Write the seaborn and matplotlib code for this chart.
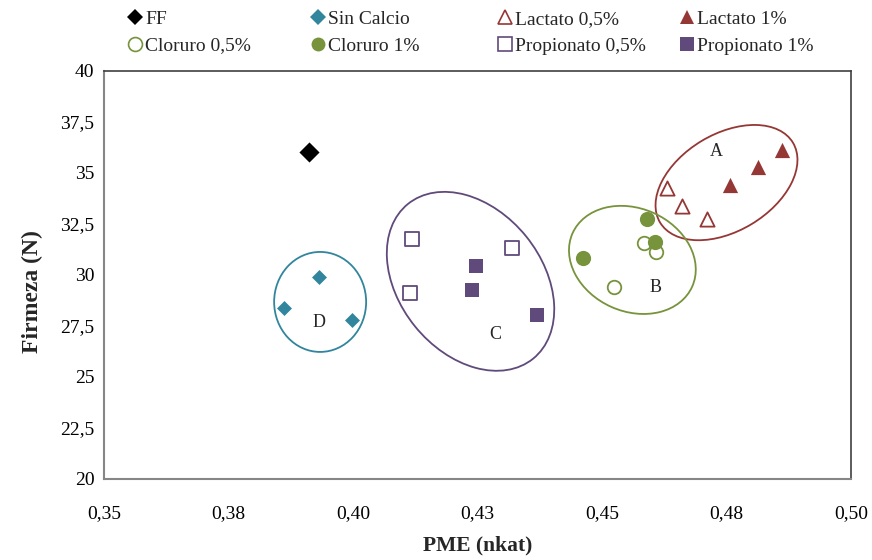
import matplotlib
matplotlib.use("Agg")
import matplotlib.pyplot as plt
import matplotlib.transforms as mtransforms
from matplotlib.patches import Ellipse
from matplotlib.lines import Line2D
import seaborn as sns

# ---- data: PME activity (nkat) vs. firmness (N) per treatment ----
ff_pme = [0.3912]
ff_firmeza = [36.05]

sin_calcio_pme = [0.3861, 0.3931, 0.3997]
sin_calcio_firmeza = [28.38, 29.92, 27.79]

lactato05_pme = [0.4630, 0.4660, 0.4710]
lactato05_firmeza = [34.25, 33.38, 32.75]

lactato1_pme = [0.4757, 0.4814, 0.4862]
lactato1_firmeza = [34.41, 35.31, 36.13]

cloruro05_pme = [0.4585, 0.4608, 0.4525]
cloruro05_firmeza = [31.55, 31.14, 29.40]

cloruro1_pme = [0.4591, 0.4607, 0.4461]
cloruro1_firmeza = [32.73, 31.60, 30.85]

propionato05_pme = [0.4118, 0.4319, 0.4114]
propionato05_firmeza = [31.76, 31.31, 29.13]

propionato1_pme = [0.4246, 0.4238, 0.4370]
propionato1_firmeza = [30.44, 29.26, 28.04]

x_ticks = [0.35, 0.375, 0.40, 0.425, 0.45, 0.475, 0.50]
x_tick_labels = ["0,35", "0,38", "0,40", "0,43", "0,45", "0,48", "0,50"]
y_ticks = [20, 22.5, 25, 27.5, 30, 32.5, 35, 37.5, 40]
y_tick_labels = ["20", "22,5", "25", "27,5", "30", "32,5", "35", "37,5", "40"]

# ---- styling ----
sns.set_style("white")
plt.rcParams["font.family"] = ["Liberation Serif", "DejaVu Serif"]

TEAL = "#31859C"
RED = "#953735"
GREEN = "#77933C"
PURPLE = "#604A7B"

series = [
    ("FF", ff_pme, ff_firmeza, "D", "black", True, 105),
    ("Sin Calcio", sin_calcio_pme, sin_calcio_firmeza, "D", TEAL, True, 58),
    ("Lactato 0,5%", lactato05_pme, lactato05_firmeza, "^", RED, False, 105),
    ("Lactato 1%", lactato1_pme, lactato1_firmeza, "^", RED, True, 120),
    ("Cloruro 0,5%", cloruro05_pme, cloruro05_firmeza, "o", GREEN, False, 95),
    ("Cloruro 1%", cloruro1_pme, cloruro1_firmeza, "o", GREEN, True, 120),
    ("Propionato 0,5%", propionato05_pme, propionato05_firmeza, "s", PURPLE, False, 100),
    ("Propionato 1%", propionato1_pme, propionato1_firmeza, "s", PURPLE, True, 105),
]

fig = plt.figure(figsize=(8.72, 5.60), dpi=100)
ax = fig.add_axes([104 / 872, 1 - 479 / 560, (851 - 104) / 872, (479 - 71) / 560])

for label, xs, ys, marker, color, filled, size in series:
    sns.scatterplot(
        x=xs, y=ys, ax=ax, marker=marker, s=size,
        color=color if filled else "white",
        edgecolor=color, linewidth=0 if filled else 1.3,
        legend=False, zorder=3,
    )

# ---- grouping ellipses (centre in data units, size in pixels) ----
groups = [
    ("A", (0.4750, 34.53), 155, 97, 31, RED, (0.4730, 36.04)),
    ("B", (0.4561, 30.74), 131, 103, -24, GREEN, (0.4608, 29.41)),
    ("C", (0.4236, 29.69), 199, 143, -51, PURPLE, (0.4285, 27.06)),
    ("D", (0.3934, 28.68), 92, 100, 0, TEAL, (0.3932, 27.65)),
]
for name, (cx, cy), w, h, ang, col, (tx, ty) in groups:
    tr = fig.dpi_scale_trans + mtransforms.ScaledTranslation(cx, cy, ax.transData)
    ax.add_patch(Ellipse((0, 0), w / 100, h / 100, angle=ang, transform=tr,
                         fill=False, edgecolor=col, linewidth=1.3, zorder=2))
    ax.text(tx, ty, name, ha="center", va="center", fontsize=13, zorder=4)

# ---- axes ----
ax.set_xlim(0.35, 0.50)
ax.set_ylim(20, 40)
ax.set_xticks(x_ticks)
ax.set_xticklabels(x_tick_labels)
ax.set_yticks(y_ticks)
ax.set_yticklabels(y_tick_labels)
ax.tick_params(axis="both", direction="out", length=5, width=1.2, color="#868686",
               labelsize=14, labelcolor="black")
ax.tick_params(axis="x", pad=14)
ax.tick_params(axis="y", pad=2)
for side in ("left", "bottom"):
    ax.spines[side].set_color("#868686")
    ax.spines[side].set_linewidth(1.5)
for side in ("top", "right"):
    ax.spines[side].set_color("#404040")
    ax.spines[side].set_linewidth(1.2)
    ax.spines[side].set_visible(True)

ax.set_xlabel("PME (nkat)", fontsize=15.5, fontweight="bold")
ax.set_ylabel("Firmeza (N)", fontsize=17, fontweight="bold")
ax.xaxis.set_label_coords(0.5, -0.138)
ax.yaxis.set_label_coords(-0.082, 0.46)

# ---- legend: four columns of two entries each ----
def handle(label, marker, color, filled, ms):
    return Line2D([], [], linestyle="none", marker=marker, markersize=ms,
                  markerfacecolor=color if filled else "white",
                  markeredgecolor=color, markeredgewidth=0 if filled else 1.2,
                  label=label)

legend_ms = {"D": 8, "^": 10, "o": 10, "s": 10}
handles = [handle(lbl, m, c, f, legend_ms[m]) for lbl, _, _, m, c, f, _ in series]
columns = [(handles[0], handles[4]), (handles[1], handles[5]),
           (handles[2], handles[6]), (handles[3], handles[7])]
col_left = [127, 310, 497, 679]
for (h1, h2), left in zip(columns, col_left):
    fig.legend(handles=[h1, h2], loc="upper left",
               bbox_to_anchor=(left / 872, 1 - 10 / 560),
               frameon=False, fontsize=14, handlelength=0.8,
               handletextpad=0.15, borderpad=0, borderaxespad=0,
               labelspacing=0.48)

fig.savefig("out.png", dpi=100)
